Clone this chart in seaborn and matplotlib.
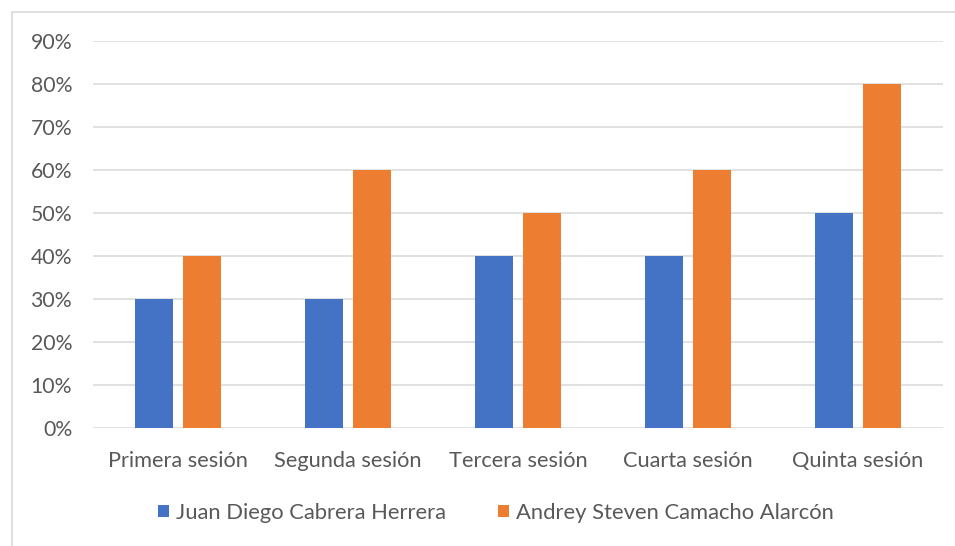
import pandas as pd
import matplotlib.pyplot as plt
import seaborn as sns
from matplotlib.ticker import PercentFormatter
from matplotlib.patches import Rectangle

sns.set_theme(style='white')
plt.rcParams['font.family'] = ['Lato', 'DejaVu Sans']

sesiones = ['Primera sesión', 'Segunda sesión', 'Tercera sesión', 'Cuarta sesión', 'Quinta sesión']
juan = [0.30, 0.30, 0.40, 0.40, 0.50]
andrey = [0.40, 0.60, 0.50, 0.60, 0.80]
nombres = ['Juan Diego Cabrera Herrera', 'Andrey Steven Camacho Alarcón']
colores = ['#4472C4', '#ED7D31']
gris = '#595959'

df = pd.DataFrame({
    'sesion': sesiones * 2,
    'valor': juan + andrey,
    'alumno': [nombres[0]] * 5 + [nombres[1]] * 5,
})

W, H = 955, 546
fig = plt.figure(figsize=(W / 100, H / 100), dpi=100)
ax = fig.add_axes([93 / W, (H - 428.3) / H, 850 / W, 387.7 / H])

sns.barplot(data=df, x='sesion', y='valor', hue='alumno', palette=colores,
            width=0.565, gap=0.2, linewidth=0, saturation=1, ax=ax)

ax.set_ylim(0, 0.9)
ax.set_yticks([i / 10 for i in range(10)])
ax.yaxis.set_major_formatter(PercentFormatter(1.0, decimals=0))
ax.set_xlabel('')
ax.set_ylabel('')
ax.grid(axis='y', color='#D9D9D9', linewidth=1.1)
ax.set_axisbelow(True)
for s in ax.spines.values():
    s.set_visible(False)
ax.tick_params(axis='y', length=0, pad=15, labelsize=15.3, colors=gris)
ax.tick_params(axis='x', length=0, pad=16, labelsize=15.7, colors=gris)

handles, labels = ax.get_legend_handles_labels()
ax.get_legend().remove()
fig.legend(handles, labels, loc='center', bbox_to_anchor=(496 / W, 1 - 513 / H),
           ncol=2, frameon=False, fontsize=15.8, labelcolor=gris,
           handlelength=0.5, handleheight=0.5, handletextpad=0.3, columnspacing=2.4)

# borde del grafico
fig.patches.append(Rectangle((12 / W, -0.1), 1.1, (H - 12) / H + 0.1,
                             transform=fig.transFigure, fill=False,
                             edgecolor='#D9D9D9', linewidth=1.2))

fig.savefig('out.png', dpi=100)
